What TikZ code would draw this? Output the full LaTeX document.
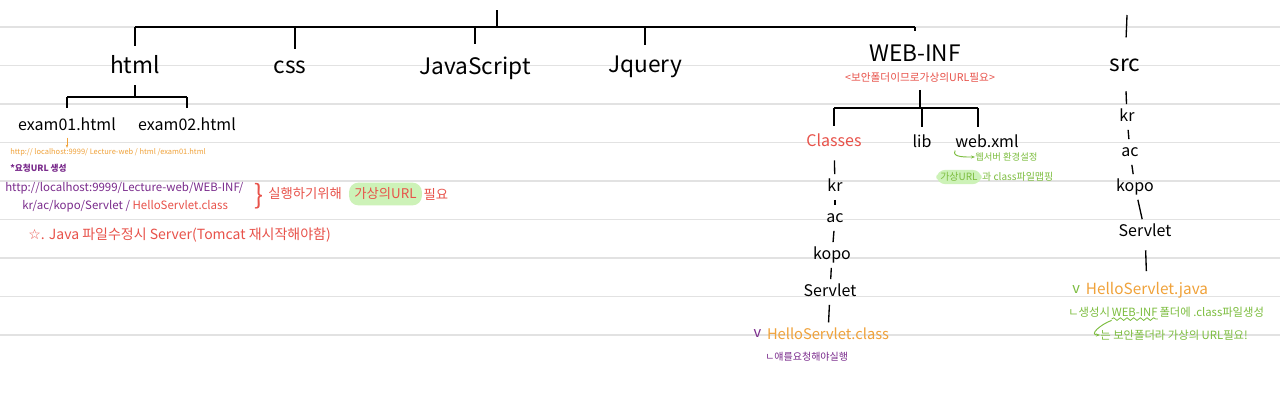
\documentclass[tikz,border=0pt]{standalone}
\usepackage{fontspec}
\setmainfont{Noto Sans CJK KR}
\newfontfamily\symfont{DejaVu Sans}
\usetikzlibrary{positioning,arrows.meta,decorations.pathmorphing}
\definecolor{notered}{HTML}{E8524A}
\definecolor{noteorange}{HTML}{F0A23A}
\definecolor{notepurple}{HTML}{7A2B8C}
\definecolor{notegreen}{HTML}{7CBD3E}
\definecolor{hlgreen}{HTML}{CDF2B8}
\definecolor{ruled}{HTML}{E2E2E2}
\newcommand{\fsz}[1]{\fontsize{#1}{#1}\selectfont}
\tikzset{
  folder/.style={font=\fsz{17}, inner sep=0pt, text height=12pt, text depth=3pt},
  sub/.style={font=\fsz{12}, inner sep=0pt, text height=9pt, text depth=2pt},
  branch/.style={line width=1pt, black},
  tick/.style={line width=1pt, shorten <=4pt, shorten >=4pt},
  note/.style={inner sep=0pt, anchor=west},
  hl/.style={fill=hlgreen, rounded corners=7pt, inner xsep=4pt, inner ysep=4pt},
  hook/.style={notegreen, line width=0.7pt, -{Stealth[length=3pt]}}
}
\begin{document}
\begin{tikzpicture}[x=0.75pt,y=-0.75pt]
  \useasboundingbox (0,0) rectangle (1280,400);
  \fill[white] (0,0) rectangle (1280,400);
  % Rayas del cuaderno
  \foreach \i in {0,...,8}
    \draw[ruled, line width=1pt] (0,27+38.5*\i) -- (1280,27+38.5*\i);

  % Carpetas principales
  \node[folder] (html) at (135,67) {html};
  \node[folder] (css) at (290,67) {css};
  \node[folder] (js) at (475,68) {JavaScript};
  \node[folder] (jq) at (645,66) {Jquery};
  \node[folder] (webinf) at (915,55) {WEB-INF};
  \node[folder] (src) at (1125,65) {src};
  \node[note, anchor=center, font=\fsz{8}, notered] (webnote) at (920,78) {<보안폴더이므로가상의URL필요>};

  \coordinate (top) at (497,10);
  \coordinate (bar) at (497,27);
  \coordinate (barL) at (135,27);
  \coordinate (barR) at (915,27);
  \coordinate (srctop) at (1127,15);
  \draw[branch] (top) -- (bar);
  \draw[branch] (barL) -- (barR);
  \draw[branch, shorten >=8pt] (html |- barL) -- (html);
  \draw[branch, shorten >=8pt] (295,27) -- (295,60);
  \draw[branch, shorten >=10pt] (js |- barL) -- (js);
  \draw[branch, shorten >=8pt] (jq |- barL) -- (jq);
  \draw[branch, shorten >=10pt] (barR) -- (webinf);
  \draw[branch, shorten >=13pt] (srctop) -- (src);

  % html
  \node[sub] (ex1) at (67,126) {exam01.html};
  \node[sub] (ex2) at (187,126) {exam02.html};
  \coordinate (hj) at (135,97);
  \draw[branch, shorten <=6pt] (html) -- (hj);
  \draw[branch] (ex1 |- hj) -- (ex2 |- hj);
  \draw[branch, shorten >=8pt] (ex1 |- hj) -- (ex1);
  \draw[branch, shorten >=8pt] (ex2 |- hj) -- (ex2);

  % Notas de la izquierda
  \node[note, font=\fsz{5.6}, noteorange] (url1) at (10,152) {http:// localhost:9999/ Lecture-web / html /exam01.html};
  \draw[noteorange, line width=0.7pt, -{Stealth[length=2.5pt]}, shorten <=3pt] (ex1.south) -- (ex1.south |- url1.north);
  \node[note, font=\bfseries\fsz{6.5}, notepurple] (req) at (10,168) {*요청URL 생성};
  \node[note, font=\fsz{8.6}, notepurple] (p1) at (5,188) {http://localhost:9999/Lecture-web/WEB-INF/};
  \node[note, font=\fsz{8.6}, notepurple] (p2) at (22,206) {kr/ac/kopo/Servlet / {\color{notered}HelloServlet.class}};
  \node[font=\fsz{20}, notered, inner sep=0pt] (brace) at (259,196) {\}};
  \node[note, font=\fsz{10}, notered] (run) at (268,194) {실행하기위해};
  \node[hl, font=\fsz{10}, text=notered, right=5pt of run] (hl1) {가상의URL};
  \node[note, font=\fsz{10}, notered, right=1pt of hl1] (need) {필요};
  \node[note, font=\fsz{10.5}, notered] (java) at (28,235) {{\symfont ☆}. Java 파일수정시 Server(Tomcat 재시작해야함)};

  % WEB-INF
  \node[sub, notered] (cls) at (834,142) {Classes};
  \node[sub] (lib) at (922,143) {lib};
  \node[sub] (xml) at (987,143) {web.xml};
  \coordinate (wj) at (920,108);
  \draw[branch, shorten <=5pt] (webnote) -- (wj);
  \draw[branch] (cls |- wj) -- (978,108);
  \draw[branch, shorten >=6pt] (cls |- wj) -- (cls);
  \draw[branch, shorten >=6pt] (lib |- wj) -- (lib);
  \draw[branch, shorten >=6pt] (978,108) -- (978,135);
  \node[note, font=\fsz{7}, notegreen] (xml1) at (975,157) {웹서버 환경설정};
  \draw[hook] (xml.south west) to[out=-120, in=180] (xml1.west);
  \node[hl, note, font=\fsz{7.5}, text=notegreen, inner xsep=3pt, inner ysep=2pt] (hl2) at (936,177) {가상URL};
  \node[note, font=\fsz{7.5}, notegreen, right=0pt of hl2] (xml2) {과 class파일맵핑};

  % Classes
  \node[sub] (kr1) at (835,187) {kr};
  \node[sub] (ac1) at (835,218) {ac};
  \node[sub] (kopo1) at (832,255) {kopo};
  \node[sub] (sv1) at (830,292) {Servlet};
  \node[font=\fsz{11}, noteorange, inner sep=0pt] (hc) at (828,334) {HelloServlet.class};
  \node[font=\fsz{11}, notepurple, left=4pt of hc, inner sep=0pt] (vc) {v};
  \node[note, font=\fsz{7.5}, notepurple] (call) at (765,357) {ㄴ얘를요청해야실행};
  \draw[tick, shorten <=8pt] (cls) -- (kr1);
  \draw[tick] (kr1) -- (ac1);
  \draw[tick] (ac1) -- (kopo1);
  \draw[tick] (kopo1) -- (sv1);
  \draw[tick] (sv1) -- (hc);

  % src
  \node[sub] (kr2) at (1127,117) {kr};
  \node[sub] (ac2) at (1130,152) {ac};
  \node[sub] (kopo2) at (1135,187) {kopo};
  \node[sub] (sv2) at (1145,232) {Servlet};
  \node[font=\fsz{11.5}, noteorange, inner sep=0pt] (hjava) at (1147,290) {HelloServlet.java};
  \node[font=\fsz{11}, notegreen, left=4pt of hjava, inner sep=0pt] (vj) {v};
  \draw[tick, shorten <=12pt] (src) -- (kr2);
  \draw[tick] (kr2) -- (ac2);
  \draw[tick] (ac2) -- (kopo2);
  \draw[tick] (kopo2) -- (sv2);
  \draw[tick, shorten <=8pt, shorten >=8pt] (sv2) -- (hjava);
  \node[note, font=\fsz{8.5}, notegreen] (g1) at (1068,312) {ㄴ생성시 };
  \node[note, font=\fsz{8.5}, notegreen, right=1pt of g1] (winf) {WEB-INF};
  \node[note, font=\fsz{8.5}, notegreen, right=1pt of winf] (g2) {폴더에 .class파일생성};
  \draw[notegreen, line width=0.6pt, decorate, decoration={snake, amplitude=1pt, segment length=5pt}] ([yshift=-2pt]winf.south west) -- ([yshift=-2pt]winf.south east);
  \node[note, font=\fsz{8.5}, notegreen] (g3) at (1100,335) {는 보안폴더라 가상의 URL필요!};
  \draw[hook] ([yshift=-3pt]winf.south west) to[out=-160, in=180, looseness=1.6] (g3.west);
\end{tikzpicture}
\end{document}
